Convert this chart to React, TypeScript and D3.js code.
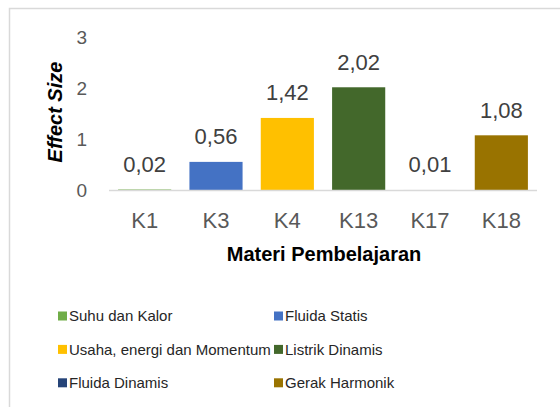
import React, { useEffect, useRef } from 'react';
import * as d3 from 'd3';

// chart values
const categories = ['K1', 'K3', 'K4', 'K13', 'K17', 'K18'];
const values = [0.02, 0.56, 1.42, 2.02, 0.01, 1.08];
const labels = ['0,02', '0,56', '1,42', '2,02', '0,01', '1,08'];
const seriesNames = ['Suhu dan Kalor', 'Fluida Statis', 'Usaha, energi dan Momentum', 'Listrik Dinamis', 'Fluida Dinamis', 'Gerak Harmonik'];
const colors = ['#70AD47', '#4472C4', '#FFC000', '#43682B', '#264478', '#997300'];
const yTicks = [0, 1, 2, 3];

const App = () => {
  const ref = useRef<SVGSVGElement>(null);

  useEffect(() => {
    const svg = d3.select(ref.current);
    svg.selectAll('*').remove();

    const font = "'Liberation Sans', Arial, sans-serif";

    // outer frame (runs off the right and bottom of the picture)
    svg.append('rect')
      .attr('x', 9.5).attr('y', 8.5)
      .attr('width', 600).attr('height', 450)
      .attr('fill', '#fff')
      .attr('stroke', '#d9d9d9')
      .attr('stroke-width', 1.5);

    const x = d3.scaleBand<string>()
      .domain(categories)
      .range([109, 537])
      .padding(0);

    const y = d3.scaleLinear()
      .domain([0, 3])
      .range([190.5, 37.2]);

    const barW = x.bandwidth() * 0.745;

    const g = svg.append('g');

    // bars
    g.selectAll('rect.bar')
      .data(values)
      .join('rect')
      .attr('class', 'bar')
      .attr('x', (d, i) => x(categories[i])! + (x.bandwidth() - barW) / 2)
      .attr('y', d => y(d))
      .attr('width', barW)
      .attr('height', d => y(0) - y(d))
      .attr('fill', (d, i) => colors[i]);

    // baseline
    g.append('line')
      .attr('x1', 109).attr('x2', 537)
      .attr('y1', y(0)).attr('y2', y(0))
      .attr('stroke', '#d9d9d9')
      .attr('stroke-width', 1.5);

    // data labels
    g.selectAll('text.lbl')
      .data(values)
      .join('text')
      .attr('class', 'lbl')
      .attr('x', (d, i) => x(categories[i])! + x.bandwidth() / 2)
      .attr('y', d => y(d) - 17.5)
      .attr('text-anchor', 'middle')
      .attr('font-family', font)
      .attr('font-size', 22)
      .attr('fill', '#404040')
      .text((d, i) => labels[i]);

    // y tick labels
    g.selectAll('text.yt')
      .data(yTicks)
      .join('text')
      .attr('class', 'yt')
      .attr('x', 87)
      .attr('y', d => y(d))
      .attr('dy', '0.35em')
      .attr('text-anchor', 'end')
      .attr('font-family', font)
      .attr('font-size', 19)
      .attr('fill', '#595959')
      .text(d => d);

    // x tick labels
    g.selectAll('text.xt')
      .data(categories)
      .join('text')
      .attr('class', 'xt')
      .attr('x', d => x(d)! + x.bandwidth() / 2)
      .attr('y', 228)
      .attr('text-anchor', 'middle')
      .attr('font-family', font)
      .attr('font-size', 22)
      .attr('fill', '#595959')
      .text(d => d);

    // axis titles
    g.append('text')
      .attr('x', 324).attr('y', 261)
      .attr('text-anchor', 'middle')
      .attr('font-family', font)
      .attr('font-size', 20)
      .attr('font-weight', 'bold')
      .attr('fill', '#000')
      .text('Materi Pembelajaran');

    g.append('text')
      .attr('transform', 'translate(62,112) rotate(-90)')
      .attr('text-anchor', 'middle')
      .attr('font-family', font)
      .attr('font-size', 20)
      .attr('font-weight', 'bold')
      .attr('font-style', 'italic')
      .attr('fill', '#000')
      .text('Effect Size');

    // legend, two columns
    const legend = g.selectAll('g.leg')
      .data(seriesNames)
      .join('g')
      .attr('class', 'leg')
      .attr('transform', (d, i) => `translate(${i % 2 === 0 ? 58 : 274},${316 + Math.floor(i / 2) * 33.4})`);

    legend.append('rect')
      .attr('x', 0).attr('y', -4.5)
      .attr('width', 9).attr('height', 9)
      .attr('fill', (d, i) => colors[i]);

    legend.append('text')
      .attr('x', 11).attr('y', 0)
      .attr('dy', '0.35em')
      .attr('font-family', font)
      .attr('font-size', 15)
      .attr('fill', '#262626')
      .text(d => d);
  }, []);

  return (
    <svg ref={ref} width={560} height={407} style={{ position: 'absolute', left: 0, top: 0 }}></svg>
  );
};

export default App;
